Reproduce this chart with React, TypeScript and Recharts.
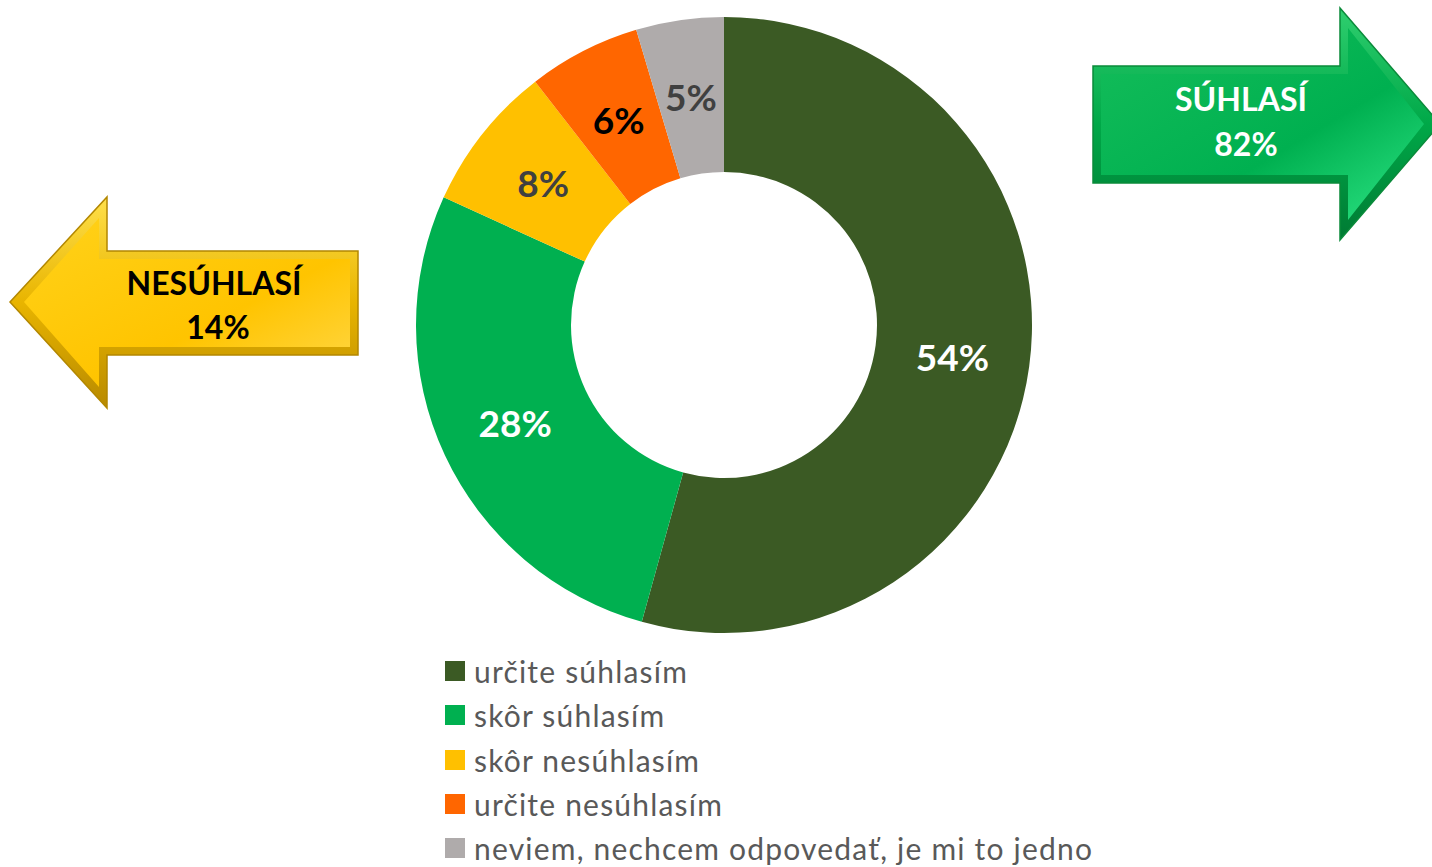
import React from "react";
import { PieChart, Pie, Cell, Legend } from "recharts";

const categories = [
  "určite súhlasím",
  "skôr súhlasím",
  "skôr nesúhlasím",
  "určite nesúhlasím",
  "neviem, nechcem odpovedať, je mi to jedno",
];
const shares = [54.3, 27.5, 7.7, 5.9, 4.6];
const colors = ["#3b5a24", "#00b050", "#ffc000", "#ff6600", "#afabab"];
const labelColors = ["#ffffff", "#ffffff", "#404040", "#000000", "#404040"];

const agreeLabel = "SÚHLASÍ";
const agreeTotal = "82%";
const disagreeLabel = "NESÚHLASÍ";
const disagreeTotal = "14%";

const FONT = "Lato, 'Open Sans', sans-serif";

const pieData = categories.map((name, i) => ({ name, value: shares[i] }));

const RAD = Math.PI / 180;

function renderLabel(props: any) {
  const { cx, cy, midAngle, innerRadius, outerRadius, value, index } = props;
  const r = (innerRadius + outerRadius) / 2;
  const x = cx + r * Math.cos(-midAngle * RAD);
  const y = cy + r * Math.sin(-midAngle * RAD);
  return (
    <text
      x={x}
      y={y}
      fill={labelColors[index]}
      textAnchor="middle"
      dominantBaseline="central"
      fontFamily={FONT}
      fontWeight={700}
      fontSize={37}
    >
      {Math.round(value)}%
    </text>
  );
}

function LegendList() {
  return (
    <div style={{ fontFamily: FONT }}>
      {categories.map((c, i) => (
        <div key={c} style={{ display: "flex", alignItems: "center", height: 44.3 }}>
          <span style={{ width: 20, height: 20, background: colors[i], marginRight: 9, display: "inline-block" }} />
          <span style={{ fontSize: 30, letterSpacing: 1.2, color: "#595959", whiteSpace: "nowrap" }}>{c}</span>
        </div>
      ))}
    </div>
  );
}

function Arrows() {
  return (
    <svg width={1432} height={867} style={{ position: "absolute", left: 0, top: 0, pointerEvents: "none" }}>
      <defs>
        <linearGradient id="gOuter" x1="0" y1="0" x2="0" y2="1">
          <stop offset="0" stopColor="#2fcf6f" />
          <stop offset="0.5" stopColor="#00a848" />
          <stop offset="1" stopColor="#007a33" />
        </linearGradient>
        <linearGradient id="gFace" x1="0" y1="0" x2="1" y2="1">
          <stop offset="0" stopColor="#14bd5a" />
          <stop offset="0.6" stopColor="#00b050" />
          <stop offset="1" stopColor="#2ee585" />
        </linearGradient>
        <linearGradient id="yOuter" x1="0" y1="0" x2="0" y2="1">
          <stop offset="0" stopColor="#ffe04a" />
          <stop offset="0.5" stopColor="#e8b400" />
          <stop offset="1" stopColor="#b88a00" />
        </linearGradient>
        <linearGradient id="yFace" x1="0" y1="0" x2="1" y2="1">
          <stop offset="0" stopColor="#ffd21a" />
          <stop offset="0.6" stopColor="#ffc400" />
          <stop offset="1" stopColor="#ffd84a" />
        </linearGradient>
      </defs>
      {/* right arrow */}
      <polygon
        points="1093,66 1340,66 1340,8 1440,124 1340,240 1340,183 1093,183"
        fill="url(#gOuter)"
        stroke="#0a8a3a"
        strokeWidth={1.5}
      />
      <polygon
        points="1101,74 1348,74 1348,28 1424,124 1348,220 1348,175 1101,175"
        fill="url(#gFace)"
      />
      <text x={1241} y={98} textAnchor="middle" dominantBaseline="central" fill="#ffffff" fontFamily={FONT} fontWeight={700} fontSize={32}>
        {agreeLabel}
      </text>
      <text x={1246} y={143} textAnchor="middle" dominantBaseline="central" fill="#ffffff" fontFamily={FONT} fontWeight={700} fontSize={32}>
        {agreeTotal}
      </text>
      {/* left arrow */}
      <polygon
        points="358,251 107,251 107,197 10,302 107,408 107,355 358,355"
        fill="url(#yOuter)"
        stroke="#b38700"
        strokeWidth={1.5}
      />
      <polygon
        points="350,259 99,259 99,218 24,302 99,387 99,347 350,347"
        fill="url(#yFace)"
      />
      <text x={214} y={282} textAnchor="middle" dominantBaseline="central" fill="#000000" fontFamily={FONT} fontWeight={700} fontSize={32}>
        {disagreeLabel}
      </text>
      <text x={218} y={326} textAnchor="middle" dominantBaseline="central" fill="#000000" fontFamily={FONT} fontWeight={700} fontSize={32}>
        {disagreeTotal}
      </text>
    </svg>
  );
}

export default function App() {
  return (
    <div style={{ position: "absolute", left: 0, top: 0, width: 1432, height: 867, background: "#ffffff", overflow: "hidden" }}>
      <PieChart width={1432} height={867} margin={{ top: 0, right: 0, bottom: 0, left: 0 }}>
        <Pie
          data={pieData}
          dataKey="value"
          nameKey="name"
          cx={724}
          cy={325}
          innerRadius={153}
          outerRadius={308}
          startAngle={90}
          endAngle={-270}
          stroke="none"
          label={renderLabel}
          labelLine={false}
          isAnimationActive={false}
        >
          {pieData.map((_, i) => (
            <Cell key={i} fill={colors[i]} />
          ))}
        </Pie>
        <Legend
          content={() => <LegendList />}
          wrapperStyle={{ position: "absolute", left: 445, top: 649, width: 720 }}
        />
      </PieChart>
      <Arrows />
    </div>
  );
}
